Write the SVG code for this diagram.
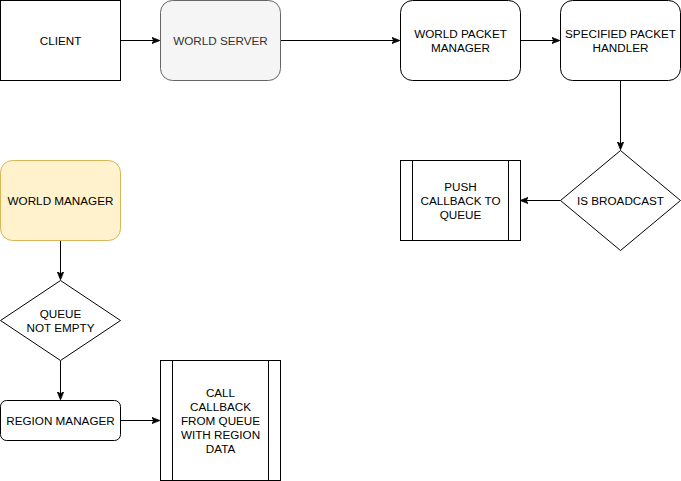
<svg xmlns="http://www.w3.org/2000/svg" width="681" height="481" viewBox="0 0 681 481">
<style>
.n{fill:#fff;stroke:#000;stroke-width:1}
.t{font-family:"Liberation Sans",Arial,sans-serif;font-size:11.7px;fill:#000;text-anchor:middle}
.e{fill:none;stroke:#000;stroke-width:1}
</style>
<defs>
<marker id="a" viewBox="0 0 10 10" refX="9" refY="5" markerWidth="8" markerHeight="8" markerUnits="userSpaceOnUse" orient="auto">
<path d="M0,1 L10,5 L0,9 L2.5,5 Z" fill="#000" stroke="#000" stroke-width="1"/>
</marker>
</defs>
<rect width="681" height="481" fill="#fff"/>
<g id="connectors">
<path class="e" d="M120.5,40.5 H159" marker-end="url(#a)"/>
<path class="e" d="M280.5,40.5 H399" marker-end="url(#a)"/>
<path class="e" d="M520.5,40.5 H559" marker-end="url(#a)"/>
<path class="e" d="M620.5,80.5 V149" marker-end="url(#a)"/>
<path class="e" d="M560.5,200.5 H521" marker-end="url(#a)"/>
<path class="e" d="M60.5,240.5 V279" marker-end="url(#a)"/>
<path class="e" d="M60.5,360.5 V399" marker-end="url(#a)"/>
<path class="e" d="M120.5,420.5 H159" marker-end="url(#a)"/>
</g>
<g id="client">
<rect class="n" x="0.5" y="0.5" width="120" height="80"/>
<text class="t" x="60.5" y="44.5">CLIENT</text>
</g>
<g id="world-server">
<rect x="160.5" y="0.5" width="120" height="80" rx="12" fill="#f5f5f5" stroke="#666"/>
<text class="t" x="220.5" y="44.5" style="fill:#333">WORLD SERVER</text>
</g>
<g id="world-packet-manager">
<rect class="n" x="400.5" y="0.5" width="120" height="80" rx="12"/>
<text class="t" x="460.5" y="37.5">WORLD PACKET</text>
<text class="t" x="460.5" y="51.5">MANAGER</text>
</g>
<g id="specified-packet-handler">
<rect class="n" x="560.5" y="0.5" width="120" height="80" rx="12"/>
<text class="t" x="620.5" y="37.5">SPECIFIED PACKET</text>
<text class="t" x="620.5" y="51.5">HANDLER</text>
</g>
<g id="is-broadcast">
<path class="n" d="M620.5,150.5 L680.5,200.5 L620.5,250.5 L560.5,200.5 Z"/>
<text class="t" x="620.5" y="204.5">IS BROADCAST</text>
</g>
<g id="push-callback">
<rect class="n" x="400.5" y="160.5" width="120" height="80"/>
<path class="e" d="M412.5,160.5 V240.5 M508.5,160.5 V240.5"/>
<text class="t" x="460.5" y="190.5">PUSH</text>
<text class="t" x="460.5" y="204.5">CALLBACK TO</text>
<text class="t" x="460.5" y="218.5">QUEUE</text>
</g>
<g id="world-manager">
<rect x="0.5" y="160.5" width="120" height="80" rx="12" fill="#fff2cc" stroke="#d6b656"/>
<text class="t" x="60.5" y="204.5">WORLD MANAGER</text>
</g>
<g id="queue-not-empty">
<path class="n" d="M60.5,280.5 L120.5,320.5 L60.5,360.5 L0.5,320.5 Z"/>
<text class="t" x="60.5" y="317.5">QUEUE</text>
<text class="t" x="60.5" y="331.5">NOT EMPTY</text>
</g>
<g id="region-manager">
<rect class="n" x="0.5" y="400.5" width="120" height="40" rx="6"/>
<text class="t" x="60.5" y="424.5">REGION MANAGER</text>
</g>
<g id="call-callback">
<rect class="n" x="160.5" y="360.5" width="120" height="120"/>
<path class="e" d="M172.5,360.5 V480.5 M268.5,360.5 V480.5"/>
<text class="t" x="220.5" y="396.5">CALL</text>
<text class="t" x="220.5" y="410.5">CALLBACK</text>
<text class="t" x="220.5" y="424.5">FROM QUEUE</text>
<text class="t" x="220.5" y="438.5">WITH REGION</text>
<text class="t" x="220.5" y="452.5">DATA</text>
</g>
</svg>
